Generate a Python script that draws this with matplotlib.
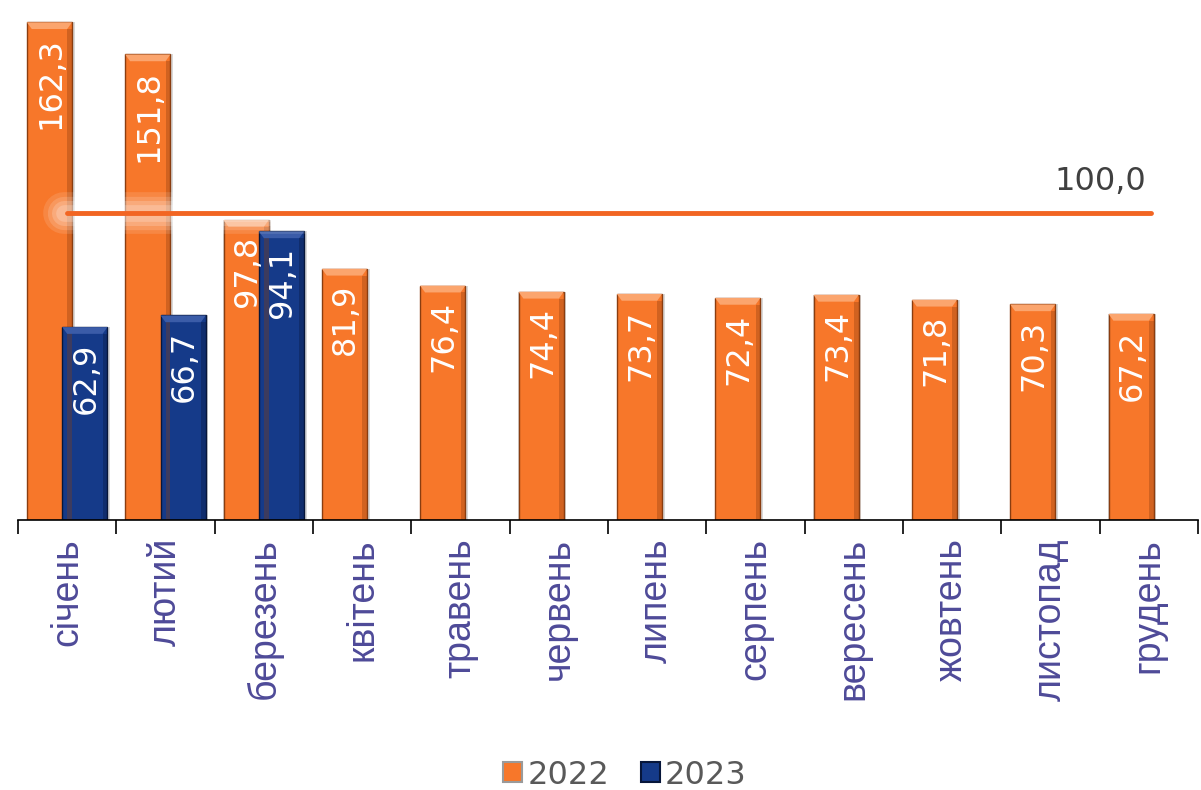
import matplotlib
matplotlib.use("Agg")
import matplotlib.pyplot as plt
import matplotlib.patches as mpatches
import numpy as np

months = ["січень", "лютий", "березень", "квітень", "травень", "червень",
          "липень", "серпень", "вересень", "жовтень", "листопад", "грудень"]
values_2022 = [162.3, 151.8, 97.8, 81.9, 76.4, 74.4, 73.7, 72.4, 73.4, 71.8, 70.3, 67.2]
values_2023 = [62.9, 66.7, 94.1]
reference_value = 100.0
series_names = ["2022", "2023"]

ORANGE = "#F7772A"
NAVY = "#153A89"
LINE = "#F26522"
CAT_COLOR = "#4E4A98"
TXT_GRAY = "#595959"

fig = plt.figure(figsize=(12.01, 7.90), dpi=100)
ax = fig.add_axes([18/1201, 270/790, (1198-18)/1201, (520-14)/790])

width = 0.46
off = 0.18
x = np.arange(len(months))

def bevel_bar(xc, h, color, dark, light):
    ax.bar(xc + 0.012, h, width + 0.03, bottom=0, color="#000000", alpha=0.15,
           zorder=2, linewidth=0)
    bars = ax.bar(xc, h, width, color=color, edgecolor=dark, linewidth=1.0, zorder=3)
    b = 2.2
    l, r = xc - width/2, xc + width/2
    dx = 0.05
    poly = mpatches.Polygon([[l, h], [r, h], [r - dx, h - b], [l + dx, h - b]],
                            closed=True, facecolor=light, edgecolor="none", zorder=4)
    ax.add_patch(poly)
    ax.add_patch(mpatches.Rectangle((r - dx, 0), dx, h - b, facecolor=dark,
                                    alpha=0.35, edgecolor="none", zorder=4))
    return bars

for i, v in enumerate(values_2022):
    bevel_bar(x[i] - off, v, ORANGE, "#8A3D10", "#FBA56E")
for i, v in enumerate(values_2023):
    bevel_bar(x[i] + off, v, NAVY, "#07163A", "#3B5CA8")

def fmt(v):
    return f"{v:.1f}".replace(".", ",")

for i, v in enumerate(values_2022):
    ax.annotate(fmt(v), (x[i] - off, v), xytext=(1, -11), textcoords="offset points",
                rotation=90, ha="center", va="top", color="white", fontsize=23,
                family="DejaVu Sans", zorder=6)
for i, v in enumerate(values_2023):
    ax.annotate(fmt(v), (x[i] + off, v), xytext=(1, -11), textcoords="offset points",
                rotation=90, ha="center", va="top", color="white", fontsize=23,
                family="DejaVu Sans", zorder=6)

# reference line with soft glow
x0, x1 = x[0], x[-1] + 0.02
for lw, a in [(30, 0.12), (24, 0.15), (18, 0.18), (12, 0.2)]:
    ax.plot([x0 - 0.03, x1 + 0.03], [reference_value]*2, color="white", lw=lw, alpha=a,
            solid_capstyle="round", zorder=5)
ax.plot([x0, x1], [reference_value]*2, color=LINE, lw=3.5,
        solid_capstyle="round", zorder=7)
ax.text(x1 - 0.05, reference_value + 5.2, fmt(reference_value), ha="right", va="bottom",
        fontsize=23, color="#404040", family="DejaVu Sans", zorder=7)

ax.set_xlim(-0.5, len(months) - 0.5)
ax.set_ylim(0, 165)
ax.set_yticks([])
for s in ["left", "right", "top"]:
    ax.spines[s].set_visible(False)
ax.spines["bottom"].set_color("black")
ax.spines["bottom"].set_linewidth(1.2)
ax.spines["bottom"].set_zorder(8)

ax.set_xticks(np.arange(len(months) + 1) - 0.5, minor=False)
ax.set_xticklabels([])
ax.tick_params(axis="x", which="major", length=10, width=1.2, color="black", direction="out")
ax.set_xticks(x, minor=True)
ax.set_xticklabels(months, minor=True, rotation=90, fontsize=27, color=CAT_COLOR,
                   family="Liberation Sans")
ax.tick_params(axis="x", which="minor", length=0, pad=13)
for lbl in ax.get_xticklabels(minor=True):
    lbl.set_va("top")
    lbl.set_ha("center")

handles = [mpatches.Patch(facecolor=ORANGE, edgecolor="#9A9A9A", linewidth=1.5),
           mpatches.Patch(facecolor=NAVY, edgecolor="#07163A", linewidth=1.5)]
fig.legend(handles, series_names, loc="center", bbox_to_anchor=(625/1201, 1 - 775/790),
           ncol=2, frameon=False, handlelength=0.6, handleheight=0.6,
           handletextpad=0.15, columnspacing=1.0, labelcolor=TXT_GRAY,
           prop={"family": "DejaVu Sans", "size": 23})

fig.savefig("out.png", dpi=100, facecolor="white")
